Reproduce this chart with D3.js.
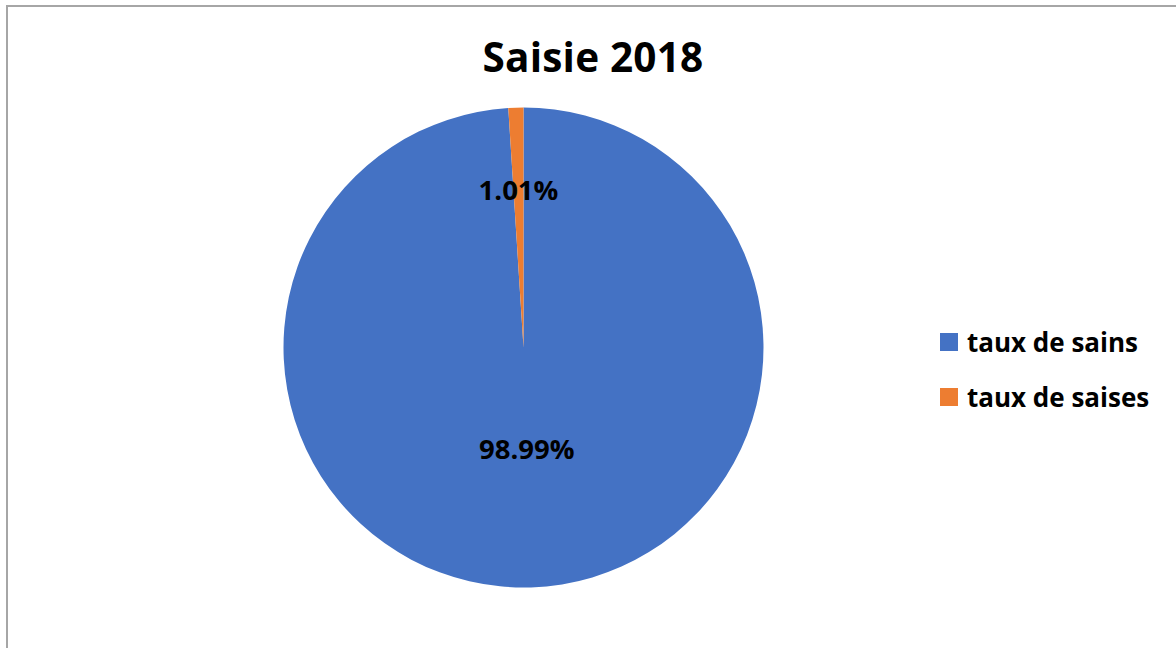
<!DOCTYPE html>
<html>
<head>
<meta charset="utf-8">
<script src="https://cdn.jsdelivr.net/npm/d3@7"></script>
<style>
  html, body { margin: 0; padding: 0; background: #fff; }
  svg { display: block; }
  text { font-family: "Open Sans", Lato, "DejaVu Sans", sans-serif; font-weight: bold; fill: #000; }
</style>
</head>
<body>
<svg id="chart" width="1176" height="648"></svg>
<script>
// Share of healthy vs. seized items, 2018
const categories = ["taux de sains", "taux de saises"];
const values = [98.99, 1.01];
const valueLabels = ["98.99%", "1.01%"];
const colors = ["#4472C4", "#ED7D31"];
const title = "Saisie 2018";

const svg = d3.select("#chart");
const W = 1176, H = 648;

// chart-area frame
svg.append("rect")
  .attr("x", 7).attr("y", 6)
  .attr("width", W + 20).attr("height", H + 20)
  .attr("fill", "#fff")
  .attr("stroke", "#a6a6a6").attr("stroke-width", 2);

svg.append("text")
  .attr("x", 593).attr("y", 72)
  .attr("text-anchor", "middle")
  .style("font-size", "40.5px")
  .style("letter-spacing", "0.2px")
  .text(title);

const cx = 523.5, cy = 347.5, r = 240;
const pie = d3.pie().sort(null).value(d => d)(values);
const arc = d3.arc().innerRadius(0).outerRadius(r);

const g = svg.append("g").attr("transform", `translate(${cx},${cy})`);
g.selectAll("path.slice")
  .data(pie)
  .join("path")
  .attr("class", "slice")
  .attr("d", arc)
  .attr("fill", (d, i) => colors[i]);

// data labels, pushed out along each slice's bisector
const labelRadius = [0.42, 0.66];
g.selectAll("text.val")
  .data(pie)
  .join("text")
  .attr("class", "val")
  .attr("text-anchor", "middle")
  .attr("dominant-baseline", "central")
  .style("font-size", "27.5px")
  .attr("transform", (d, i) => {
    const a = (d.startAngle + d.endAngle) / 2;
    const rr = r * labelRadius[i];
    return `translate(${rr * Math.sin(a)},${-rr * Math.cos(a)})`;
  })
  .text((d, i) => valueLabels[i]);

// legend
const legend = svg.append("g").attr("transform", "translate(940,333)");
const rows = legend.selectAll("g")
  .data(categories)
  .join("g")
  .attr("transform", (d, i) => `translate(0,${i * 55})`);
rows.append("rect")
  .attr("width", 18).attr("height", 18)
  .attr("fill", (d, i) => colors[i]);
rows.append("text")
  .attr("x", 27).attr("y", 9)
  .attr("dominant-baseline", "central")
  .style("font-size", "26px")
  .text(d => d);
</script>
</body>
</html>
